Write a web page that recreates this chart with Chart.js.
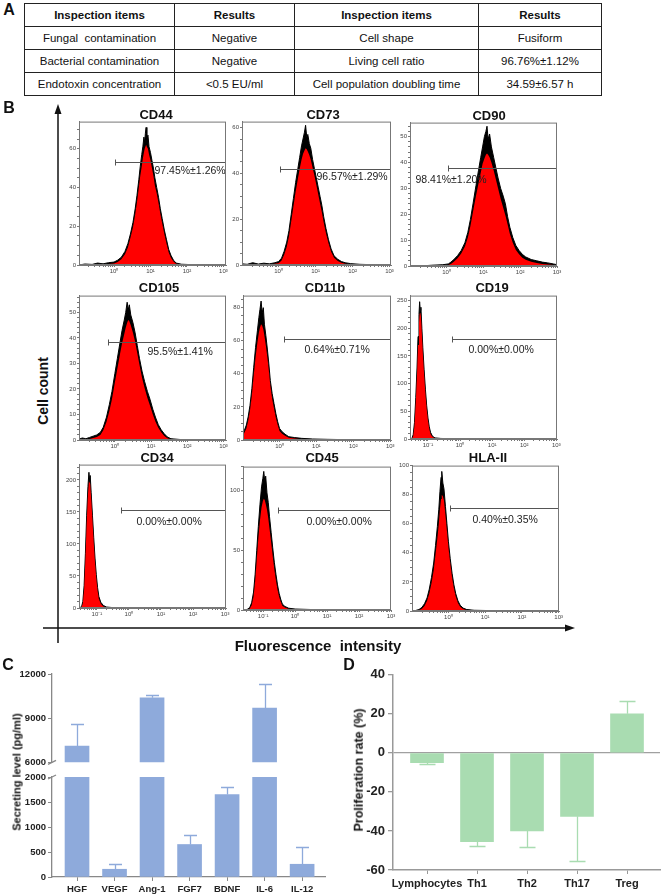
<!DOCTYPE html>
<html>
<head>
<meta charset="utf-8">
<title>MSC characterization</title>
<script src="https://cdn.jsdelivr.net/npm/chart.js@4.4.1/dist/chart.umd.min.js"></script>
<style>
  html, body { margin: 0; padding: 0; background: #fff; }
  body { position: relative; width: 661px; height: 895px; overflow: hidden;
         font-family: "Liberation Sans", Arial, sans-serif; color: #111; }
  canvas, .txt, table, svg { position: absolute; }
  .txt { white-space: pre; transform: translate(-50%, -50%); line-height: 1; }
  .tag { font-weight: bold; font-size: 16px; }
  .ttl { font-weight: bold; font-size: 13px; }
  .axt { font-weight: bold; }
  table { left: 24px; top: 3px; border-collapse: collapse; font-size: 11.5px; }
  td, th { border: 1px solid #222; height: 22px; padding: 0; text-align: center; white-space: pre; }
  th { font-weight: bold; }
</style>
</head>
<body>
<table id="qc"></table>
<svg width="661" height="895" style="left:0;top:0">
  <line x1="58" y1="112" x2="58" y2="643" stroke="#111" stroke-width="1.5"/>
  <polygon points="58,104 54.5,114 61.5,114" fill="#111"/>
  <line x1="43" y1="628" x2="566" y2="628" stroke="#111" stroke-width="1.5"/>
  <polygon points="575,628 565,624.5 565,631.5" fill="#111"/>
</svg>
<script>
Chart.defaults.font.family = '"Liberation Sans", Arial, sans-serif';
Chart.defaults.color = '#222';

// A - quality inspection table
const tableHeader = ['Inspection items', 'Results', 'Inspection items', 'Results'];
const tableRows = [
  ['Fungal  contamination', 'Negative', 'Cell shape', 'Fusiform'],
  ['Bacterial contamination', 'Negative', 'Living cell ratio', '96.76%\u00b11.12%'],
  ['Endotoxin concentration', '<0.5 EU/ml', 'Cell population doubling time', '34.59\u00b16.57 h']
];
const tableColWidths = [149, 119, 183, 122];

// B - flow cytometry histograms
// each point: [log10 fluorescence, noisy top count (black), smooth count (red)]
const cd44Hist = [[-0.96,0,0],[-0.8,0.5,0],[-0.6,0.3,0],[-0.45,1,0.3],[-0.3,0.6,0.2],[-0.15,1.2,0.5],[0,1.5,0.8],[0.1,2.5,1.5],[0.2,4,3],[0.3,7,5.5],[0.38,11,9],[0.45,16,14],[0.52,22,19.5],[0.58,29,26],[0.63,36,32.5],[0.68,44,40],[0.72,51,46],[0.76,57,51],[0.79,61,55],[0.82,66,58],[0.84,63,60],[0.86,68,61],[0.88,71,62],[0.9,65,61],[0.93,67,60],[0.96,61,57],[1,58,54],[1.04,54,50],[1.08,50,46],[1.12,45,41],[1.17,40,37],[1.22,35,32],[1.27,29,26.5],[1.32,24,21.5],[1.38,18,16],[1.44,13,11],[1.5,8,6.5],[1.56,5,3.8],[1.63,2.5,1.8],[1.7,1,0.6],[1.85,0.4,0.2],[2.1,0.2,0],[2.5,0,0],[3.07,0,0]];
const cd73Hist = [[-0.99,0.5,0],[-0.85,0.3,0],[-0.7,1,0.3],[-0.55,0.4,0],[-0.4,0.8,0.3],[-0.25,0.5,0.2],[-0.1,1,0.5],[0,1.5,0.8],[0.08,3,2],[0.15,6,4.5],[0.22,10,8],[0.28,15,12.5],[0.34,22,19],[0.4,29,25.5],[0.46,36,32],[0.52,42,37.5],[0.57,47,42],[0.62,52,46],[0.66,55,48.5],[0.7,58,50],[0.73,61,51],[0.76,56,50.5],[0.79,57,49.5],[0.83,53,48],[0.87,51,46],[0.92,46,42.5],[0.97,42,39],[1.02,38,35],[1.07,34,31],[1.12,30,27],[1.17,26,23],[1.22,21,18.5],[1.28,16,14],[1.35,11,9.5],[1.42,7,5.8],[1.5,4,3.2],[1.6,2.5,1.8],[1.7,1.5,1],[1.8,1,0.6],[1.95,0.6,0.3],[2.2,0.3,0],[2.6,0.1,0],[3.04,0,0]];
const cd90Hist = [[-0.99,0,0],[-0.7,0,0],[-0.4,0.3,0],[-0.1,0.5,0.2],[0.05,0.8,0.4],[0.12,1.5,0.8],[0.2,2.5,1.6],[0.3,4,3],[0.4,6,4.8],[0.5,9,7.5],[0.58,13,11],[0.65,18,15.5],[0.72,24,21],[0.8,31,27],[0.87,37,32],[0.93,42,36],[0.98,46,39.5],[1.03,50,41.5],[1.07,52,43],[1.1,54,43.5],[1.13,49,43],[1.17,51,42],[1.22,46,40],[1.28,42,37],[1.34,38,33.5],[1.4,34,30],[1.47,30,26],[1.54,27,22.5],[1.6,24,19.5],[1.66,19,16],[1.72,15,12.5],[1.8,11,9],[1.88,8,6.3],[1.97,6,4.5],[2.06,4.5,3.2],[2.15,3.5,2.4],[2.3,2.5,1.6],[2.45,2,1.2],[2.6,1.5,0.8],[2.75,1.2,0.6],[2.9,0.8,0.4],[3,0.5,0.2]];
const cd105Hist = [[-0.99,0.3,0],[-0.9,0.8,0.2],[-0.8,0.5,0.1],[-0.7,1,0.4],[-0.6,1.5,0.8],[-0.5,2,1.2],[-0.4,3,2],[-0.32,5,3.8],[-0.23,9,7.2],[-0.15,14,11.5],[-0.08,19,16],[0,26,22.5],[0.07,32,28],[0.14,38,33.5],[0.2,43,38],[0.26,47,41.5],[0.3,50,44],[0.34,54,46],[0.37,51,47],[0.4,53,46.5],[0.44,49,45],[0.5,46,42],[0.56,42,38.5],[0.62,37,34],[0.68,32,29.5],[0.75,27,24.5],[0.82,23,20.5],[0.9,19,16.5],[0.97,16,13.5],[1.05,12,10],[1.12,9,7.3],[1.2,6,4.8],[1.28,4,3],[1.36,2.5,1.7],[1.45,1.2,0.7],[1.55,0.5,0.2],[1.8,0.2,0],[2.3,0,0],[3.07,0,0]];
const cd11bHist = [[-0.99,4,2.5],[-0.95,6,4.5],[-0.9,9,7],[-0.85,14,11.5],[-0.8,21,18],[-0.75,31,27],[-0.7,44,39],[-0.65,56,50],[-0.6,66,59],[-0.56,74,65],[-0.53,79,68],[-0.5,84,70],[-0.47,77,69],[-0.44,80,67],[-0.41,70,63],[-0.37,63,57],[-0.33,55,50],[-0.29,46,42],[-0.25,36,33],[-0.2,28,25],[-0.15,22,19],[-0.1,16,13.5],[-0.05,11,9],[0,7,5.5],[0.07,5,3.8],[0.15,3.5,2.5],[0.25,2,1.4],[0.4,1.5,0.9],[0.6,1,0.5],[0.9,0.6,0.3],[1.3,0.4,0.1],[1.8,0.2,0],[2.5,0,0],[3.02,0,0]];
const cd19Hist = [[-1.56,0,0],[-1.5,1,0.5],[-1.46,8,5],[-1.42,30,24],[-1.38,75,66],[-1.34,130,118],[-1.31,185,170],[-1.28,225,210],[-1.26,248,226],[-1.24,232,228],[-1.22,238,222],[-1.19,200,190],[-1.16,165,155],[-1.12,125,116],[-1.08,90,82],[-1.04,60,54],[-1,38,33],[-0.96,22,18],[-0.92,12,9],[-0.86,5,3.5],[-0.78,2,1.2],[-0.6,1,0.5],[-0.3,0.5,0],[0.2,0,0],[3.02,0,0]];
const cd34Hist = [[-1.56,0,0],[-1.48,2,1],[-1.44,10,7],[-1.4,35,29],[-1.36,85,76],[-1.32,145,133],[-1.28,190,178],[-1.25,212,198],[-1.23,200,196],[-1.21,207,194],[-1.18,180,172],[-1.14,145,137],[-1.1,110,102],[-1.06,78,71],[-1.02,52,46],[-0.98,32,27],[-0.94,18,14],[-0.88,9,6.5],[-0.8,4,2.5],[-0.7,1.5,0.8],[-0.5,0.6,0.2],[-0.2,0.3,0],[0.3,0,0],[3.03,0,0]];
const cd45Hist = [[-1.63,0,0],[-1.5,0.5,0],[-1.42,2,1],[-1.36,6,4],[-1.3,15,11],[-1.25,30,24],[-1.2,50,42],[-1.15,70,60],[-1.1,88,75],[-1.05,103,86],[-1.01,110,91],[-0.98,116,93],[-0.95,108,92],[-0.92,112,89],[-0.88,98,84],[-0.84,90,77],[-0.8,78,68],[-0.75,65,57],[-0.7,52,45],[-0.65,40,34],[-0.6,30,25],[-0.55,21,17],[-0.5,14,11],[-0.45,9,6.8],[-0.4,5,3.6],[-0.32,3,2],[-0.2,1.5,0.8],[0,0.8,0.3],[0.5,0.4,0],[1.2,0.2,0],[2,0,0],[3,0,0]];
const hlaHist = [[-0.99,0,0],[-0.9,0.3,0],[-0.8,1,0.5],[-0.72,2.5,1.5],[-0.65,5,3.5],[-0.58,9,7],[-0.52,15,12],[-0.46,23,19],[-0.4,33,28],[-0.35,45,39],[-0.3,58,50],[-0.26,70,60],[-0.23,82,70],[-0.2,92,77],[-0.18,96,80],[-0.15,88,79],[-0.12,84,76],[-0.08,72,66],[-0.04,60,55],[0,48,44],[0.05,36,33],[0.1,26,23],[0.15,18,15.5],[0.2,12,10],[0.26,7,5.5],[0.32,4,3],[0.4,2,1.3],[0.5,1,0.5],[0.7,0.5,0.2],[1.1,0.3,0],[1.8,0,0],[3.01,0,0]];

const decadeTicks = [-1, 0, 1, 2, 3];
const decadeLabels = ['10\u207b\u00b9', '10\u2070', '10\u00b9', '10\u00b2', '10\u00b3'];

// C - secreted factors (pg/ml)
const cytokines = ['HGF', 'VEGF', 'Ang-1', 'FGF7', 'BDNF', 'IL-6', 'IL-12'];
const secretMean = [7100, 155, 10380, 650, 1650, 9680, 255];
const secretSD = [1500, 100, 190, 200, 150, 1640, 345];
const secretTicksLow = [0, 500, 1000, 1500, 2000];
const secretTicksHigh = [6000, 9000, 12000];

// D - lymphocyte proliferation rate (%)
const cellTypes = ['Lymphocytes', 'Th1', 'Th2', 'Th17', 'Treg'];
const prolifMean = [-5, -45.5, -40, -32.5, 20];
const prolifSD = [0.8, 2.3, 8, 23, 6.5];
const prolifTicks = [-60, -40, -20, 0, 20, 40];

// layout of the nine flow panels (pixel boxes kept apart from the data)
const flowPanels = [
  { name: 'CD44', hist: cd44Hist, gateLabel: '97.45%\u00b11.26%', box: [79, 121, 226, 265], x: [-0.96, 3.07], firstDecade: 0, yMax: 74, yMajor: 20, yMinor: 5, gate: [0.03, 53.3], off: [39, 9], title: [156, 114] },
  { name: 'CD73', hist: cd73Hist, gateLabel: '96.57%\u00b11.29%', box: [242, 121, 391, 265], x: [-0.99, 3.04], firstDecade: 0, yMax: 62.6, yMajor: 20, yMinor: 5, gate: [0.05, 42], off: [36, 8], title: [323, 114] },
  { name: 'CD90', hist: cd90Hist, gateLabel: '98.41%\u00b11.20%', box: [410, 122, 557, 266], x: [-0.99, 3.0], firstDecade: 0, yMax: 55.4, yMajor: 10, yMinor: 2, gate: [0.03, 37.7], off: [-33, 12], title: [489, 115] },
  { name: 'CD105', hist: cd105Hist, gateLabel: '95.5%\u00b11.41%', box: [79, 295, 226, 440], x: [-0.99, 3.07], firstDecade: 0, yMax: 56.6, yMajor: 10, yMinor: 2, gate: [-0.19, 38.3], off: [39, 10], title: [159, 287] },
  { name: 'CD11b', hist: cd11bHist, gateLabel: '0.64%\u00b10.71%', box: [243, 295, 391, 440], x: [-0.99, 3.02], firstDecade: 0, yMax: 87.3, yMajor: 20, yMinor: 5, gate: [0.11, 61], off: [20, 11], title: [325, 287] },
  { name: 'CD19', hist: cd19Hist, gateLabel: '0.00%\u00b10.00%', box: [410, 295, 557, 439], x: [-1.56, 3.02], firstDecade: -1, yMax: 259, yMajor: 50, yMinor: 10, gate: [-0.25, 180], off: [16, 11], title: [492, 287] },
  { name: 'CD34', hist: cd34Hist, gateLabel: '0.00%\u00b10.00%', box: [79, 464, 226, 608], x: [-1.56, 3.03], firstDecade: -1, yMax: 224, yMajor: 50, yMinor: 10, gate: [-0.25, 153], off: [15, 12], title: [157, 457] },
  { name: 'CD45', hist: cd45Hist, gateLabel: '0.00%\u00b10.00%', box: [243, 466, 391, 610], x: [-1.63, 3.0], firstDecade: -1, yMax: 120, yMajor: 50, yMinor: 10, gate: [-0.55, 84], off: [28, 12], title: [322, 457] },
  { name: 'HLA-II', hist: hlaHist, gateLabel: '0.40%\u00b10.35%', box: [412, 465, 559, 611], x: [-0.99, 3.01], firstDecade: 0, yMax: 100, yMajor: 20, yMinor: 5, gate: [0.05, 71], off: [22, 12], title: [488, 457] }
];

function addCanvas(left, top, w, h) {
  const cv = document.createElement('canvas');
  cv.width = w; cv.height = h;
  cv.style.left = left + 'px'; cv.style.top = top + 'px';
  document.body.appendChild(cv);
  return cv;
}

function addText(str, x, y, cls, style) {
  const el = document.createElement('div');
  el.className = 'txt ' + cls;
  el.textContent = str;
  el.style.left = x + 'px';
  el.style.top = y + 'px';
  if (style) Object.assign(el.style, style);
  document.body.appendChild(el);
}

function buildTable() {
  const tbl = document.getElementById('qc');
  const head = tbl.insertRow();
  tableHeader.forEach((h, i) => {
    const th = document.createElement('th');
    th.textContent = h;
    th.style.width = tableColWidths[i] + 'px';
    head.appendChild(th);
  });
  tableRows.forEach(r => {
    const tr = tbl.insertRow();
    r.forEach(c => { tr.insertCell().textContent = c; });
  });
}

function logTicks(min, max) {
  const ticks = [];
  for (let d = Math.floor(min); d <= Math.ceil(max); d++) {
    for (let k = 1; k <= 9; k++) {
      const v = d + Math.log10(k);
      if (v >= min - 1e-9 && v <= max + 1e-9) ticks.push({ value: v });
    }
  }
  return ticks;
}

function decadeLabel(v, first) {
  const d = Math.round(v);
  if (Math.abs(v - d) > 1e-6 || d < first) return '';
  const i = decadeTicks.indexOf(d);
  return i < 0 ? '' : decadeLabels[i];
}

const framePlugin = {
  id: 'frame',
  afterDraw(chart) {
    const { ctx, chartArea: a } = chart;
    ctx.save();
    ctx.strokeStyle = '#777';
    ctx.lineWidth = 1;
    ctx.strokeRect(a.left + 0.5, a.top + 0.5, a.right - a.left - 1, a.bottom - a.top - 1);
    ctx.restore();
  }
};

function gatePlugin(p) {
  return {
    id: 'gate',
    afterDatasetsDraw(chart) {
      const { ctx, chartArea: a, scales: { x, y } } = chart;
      const gx = Math.round(x.getPixelForValue(p.gate[0])) + 0.5;
      const gy = Math.round(y.getPixelForValue(p.gate[1])) + 0.5;
      ctx.save();
      ctx.strokeStyle = '#555';
      ctx.lineWidth = 1;
      ctx.beginPath();
      ctx.moveTo(gx, gy); ctx.lineTo(a.right, gy);
      ctx.moveTo(gx, gy - 3); ctx.lineTo(gx, gy + 3);
      ctx.stroke();
      ctx.fillStyle = '#222';
      ctx.font = '10.5px "Liberation Sans", Arial, sans-serif';
      ctx.textBaseline = 'middle';
      ctx.fillText(p.gateLabel, gx + p.off[0], gy + p.off[1]);
      ctx.restore();
    }
  };
}

function histogramChart(p) {
  const [l, t, r, b] = p.box;
  const pad = { left: 20, top: 4, right: 10, bottom: 12 };
  const cv = addCanvas(l - pad.left, t - pad.top, r - l + pad.left + pad.right, b - t + pad.top + pad.bottom);
  const yTicks = [];
  for (let v = 0; v <= p.yMax + 1e-9; v += p.yMinor) yTicks.push({ value: v });

  new Chart(cv, {
    type: 'line',
    data: {
      datasets: [
        {
          // smooth body of the distribution, drawn on top
          data: p.hist.map(([x, , lo]) => ({ x, y: lo })),
          order: 1,
          borderWidth: 0,
          backgroundColor: '#ff0000',
          fill: 'origin',
          pointRadius: 0,
          tension: 0
        },
        {
          // noisy black envelope of the raw counts
          data: p.hist.map(([x, hi]) => ({ x, y: hi })),
          order: 2,
          borderColor: '#000',
          borderWidth: 1,
          backgroundColor: '#000',
          fill: 'origin',
          pointRadius: 0,
          tension: 0
        }
      ]
    },
    options: {
      responsive: false,
      animation: false,
      events: [],
      layout: { padding: { top: pad.top, right: pad.right, left: 0, bottom: 0 } },
      plugins: { legend: { display: false }, tooltip: { enabled: false } },
      scales: {
        x: {
          type: 'linear', min: p.x[0], max: p.x[1],
          afterBuildTicks: s => { s.ticks = logTicks(p.x[0], p.x[1]); },
          afterFit: s => { s.height = pad.bottom; },
          ticks: { autoSkip: false, maxRotation: 0, padding: 1, font: { size: 6 }, color: '#444',
                   callback: v => decadeLabel(v, p.firstDecade) },
          grid: { drawOnChartArea: false, tickLength: 2, color: '#777' },
          border: { color: '#777' }
        },
        y: {
          min: 0, max: p.yMax,
          afterBuildTicks: s => { s.ticks = yTicks.slice(); },
          afterFit: s => { s.width = pad.left; },
          ticks: { autoSkip: false, padding: 1, font: { size: 6 }, color: '#444',
                   callback: v => (Math.abs(v % p.yMajor) < 1e-6 ? String(v) : '') },
          grid: { drawOnChartArea: false, tickLength: 2, color: '#777' },
          border: { color: '#777' }
        }
      }
    },
    plugins: [framePlugin, gatePlugin(p)]
  });
  addText(p.name, p.title[0], p.title[1], 'ttl');
}

function errorBars(mean, sd, color, cap) {
  return {
    id: 'errorBars',
    afterDatasetsDraw(chart) {
      const { ctx, chartArea: a, scales: { x, y } } = chart;
      ctx.save();
      ctx.beginPath();
      ctx.rect(a.left, a.top - 1, a.right - a.left, a.bottom - a.top + 2);
      ctx.clip();
      ctx.strokeStyle = color;
      ctx.lineWidth = 1.3;
      mean.forEach((m, i) => {
        const px = Math.round(x.getPixelForValue(i + 1)) + 0.5;
        const end = m < 0 ? m - sd[i] : m + sd[i];
        const y0 = y.getPixelForValue(m);
        const y1 = Math.round(y.getPixelForValue(end)) + 0.5;
        ctx.beginPath();
        ctx.moveTo(px, y0); ctx.lineTo(px, y1);
        ctx.moveTo(px - cap, y1); ctx.lineTo(px + cap, y1);
        ctx.stroke();
      });
      ctx.restore();
    }
  };
}

function breakMark(atTop) {
  return {
    id: 'breakMark',
    afterDraw(chart) {
      const { ctx, chartArea: a } = chart;
      const yb = atTop ? a.top : a.bottom;
      ctx.save();
      ctx.strokeStyle = '#888';
      ctx.lineWidth = 1.3;
      ctx.beginPath();
      ctx.moveTo(a.left - 4, yb + 2);
      ctx.lineTo(a.left + 4, yb - 2);
      ctx.stroke();
      ctx.restore();
    }
  };
}

// C: broken axis drawn as two stacked charts sharing the same x mapping
function secretChart(top, height, padTop, xHeight, yMin, yMax, ticks, showX, atTop) {
  const cv = addCanvas(12, top, 321, height);
  new Chart(cv, {
    type: 'bar',
    data: {
      datasets: [{
        data: cytokines.map((c, i) => ({ x: i + 1, y: secretMean[i] })),
        backgroundColor: '#8eaadb',
        borderWidth: 0,
        barThickness: 24
      }]
    },
    options: {
      responsive: false,
      animation: false,
      events: [],
      layout: { padding: { top: padTop, right: 8, left: 0, bottom: showX ? 0 : 1 } },
      plugins: { legend: { display: false }, tooltip: { enabled: false } },
      scales: {
        x: {
          type: 'linear', min: 0.333, max: 7.61, offset: false, display: showX,
          afterBuildTicks: s => { s.ticks = cytokines.map((c, i) => ({ value: i + 1 })); },
          afterFit: s => { s.height = xHeight; },
          ticks: { autoSkip: false, maxRotation: 0, padding: 3, font: { size: 9.5, weight: 'bold' }, color: '#222',
                   callback: v => cytokines[v - 1] },
          grid: { offset: false, drawOnChartArea: false, tickLength: 4, color: '#888' },
          border: { color: '#888', width: 1.3 }
        },
        y: {
          min: yMin, max: yMax,
          afterBuildTicks: s => { s.ticks = ticks.map(v => ({ value: v })); },
          afterFit: s => { s.width = 40; },
          ticks: { padding: 2, font: { size: 9.5, weight: 'bold' }, color: '#222', callback: v => String(v) },
          grid: { drawOnChartArea: false, tickLength: 4, color: '#888' },
          border: { color: '#888', width: 1.3 }
        }
      }
    },
    plugins: [errorBars(secretMean, secretSD, '#8eaadb', 6.5), breakMark(atTop)]
  });
}

function prolifChart() {
  const cv = addCanvas(361, 664, 300, 228);
  new Chart(cv, {
    type: 'bar',
    data: {
      datasets: [{
        data: cellTypes.map((c, i) => ({ x: i + 1, y: prolifMean[i] })),
        backgroundColor: '#a9dcb1',
        borderWidth: 0,
        barThickness: 33
      }]
    },
    options: {
      responsive: false,
      animation: false,
      events: [],
      layout: { padding: { top: 8, right: 1, left: 0, bottom: 0 } },
      plugins: { legend: { display: false }, tooltip: { enabled: false } },
      scales: {
        x: {
          type: 'linear', min: 0.32, max: 5.66, offset: false,
          afterBuildTicks: s => { s.ticks = cellTypes.map((c, i) => ({ value: i + 1 })); },
          afterFit: s => { s.height = 22; },
          ticks: { autoSkip: false, maxRotation: 0, padding: 3, font: { size: 11, weight: 'bold' }, color: '#222',
                   callback: v => cellTypes[v - 1] },
          grid: { offset: false, drawOnChartArea: false, tickLength: 4, color: '#999' },
          border: { color: '#999', width: 1.5 }
        },
        y: {
          min: -60, max: 40,
          afterBuildTicks: s => { s.ticks = prolifTicks.map(v => ({ value: v })); },
          afterFit: s => { s.width = 32; },
          ticks: { padding: 3, font: { size: 13, weight: 'bold' }, color: '#222' },
          grid: {
            drawOnChartArea: true, tickLength: 5, tickColor: '#999', lineWidth: 1.3,
            color: c => (c.tick && c.tick.value === 0 ? '#a0a0a0' : 'rgba(0,0,0,0)')
          },
          border: { color: '#999', width: 1.5 }
        }
      }
    },
    plugins: [errorBars(prolifMean, prolifSD, '#a9dcb1', 8)]
  });
}

buildTable();
flowPanels.forEach(histogramChart);
secretChart(666, 104, 8, 0, 6000, 12000, secretTicksHigh, false, false);
secretChart(769, 126, 8, 18, 0, 2000, secretTicksLow, true, true);
prolifChart();

addText('A', 9, 10, 'tag');
addText('B', 9, 108, 'tag');
addText('C', 8, 665, 'tag');
addText('D', 349, 665, 'tag');
addText('Cell count', 43, 391, 'axt', { fontSize: '14px', transform: 'translate(-50%, -50%) rotate(-90deg)' });
addText('Fluorescence  intensity', 318, 645, 'axt', { fontSize: '15px' });
addText('Secreting level (pg/ml)', 17, 772, 'axt', { fontSize: '11px', transform: 'translate(-50%, -50%) rotate(-90deg)' });
addText('Proliferation rate (%)', 359, 770, 'axt', { fontSize: '12.5px', transform: 'translate(-50%, -50%) rotate(-90deg)' });
</script>
</body>
</html>
